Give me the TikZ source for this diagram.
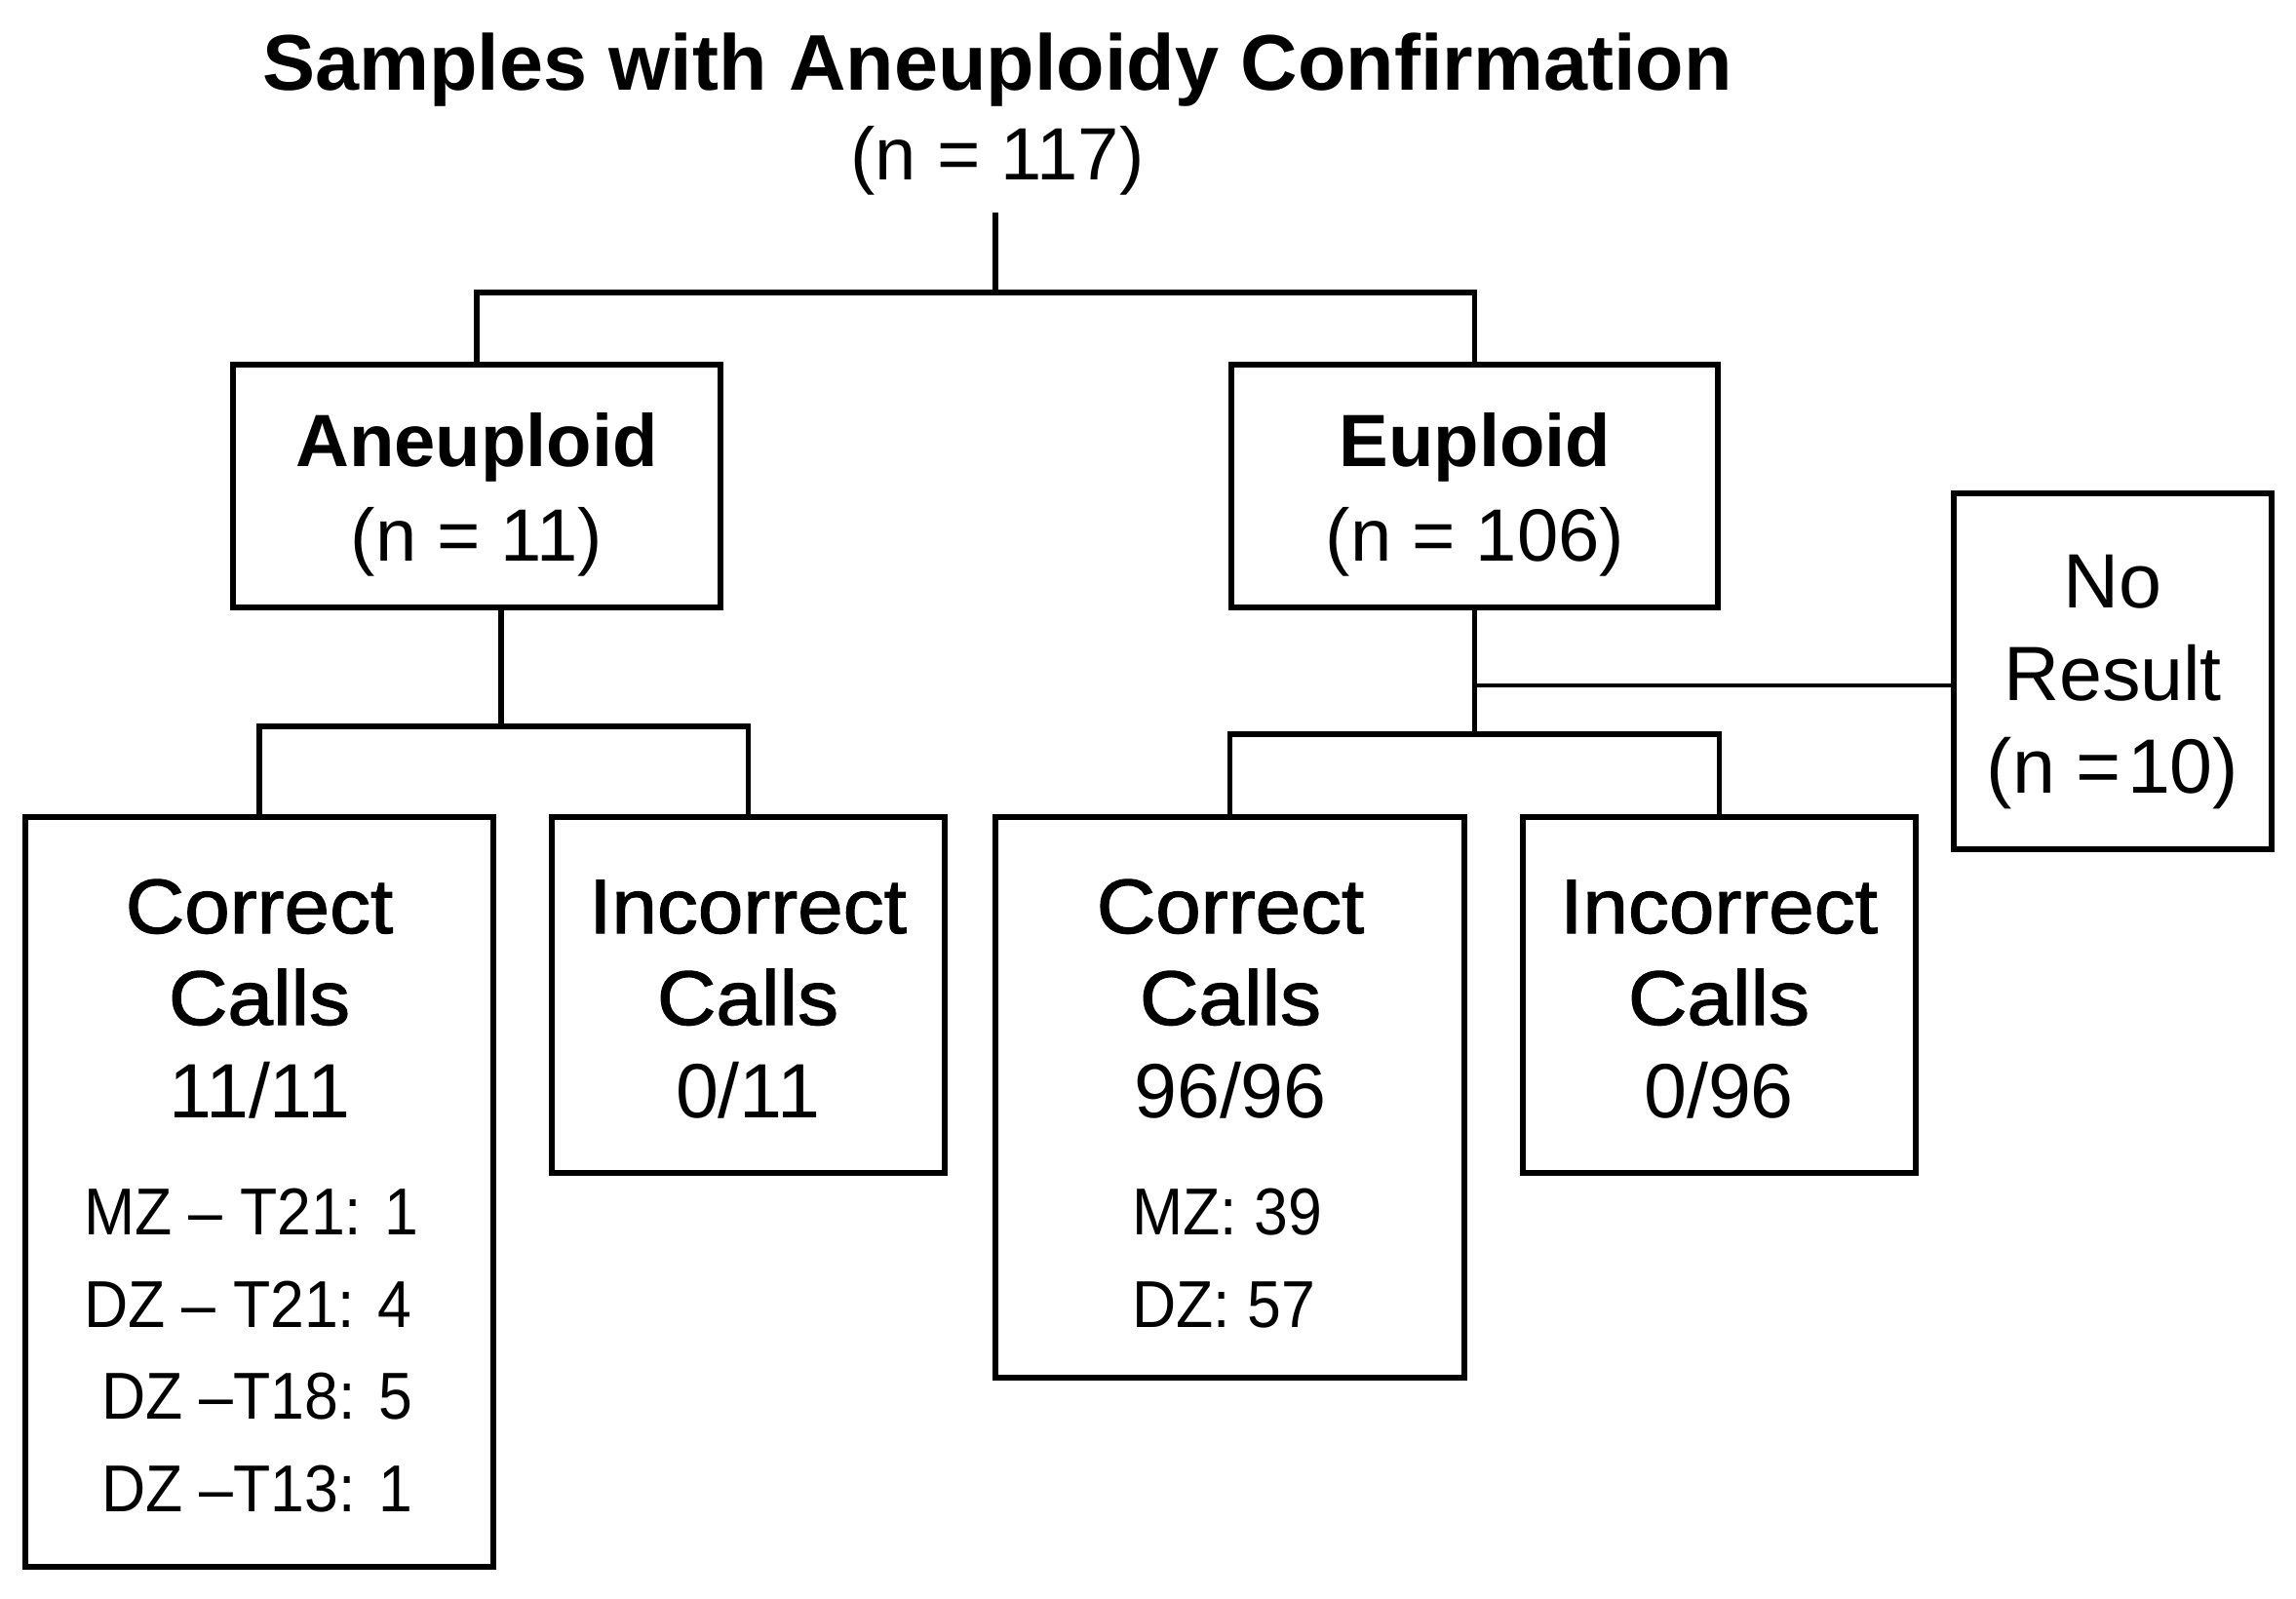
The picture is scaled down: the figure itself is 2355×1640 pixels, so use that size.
\documentclass[tikz,border=0pt]{standalone}
\usepackage{fontspec}
\setmainfont{Liberation Sans}
\newfontfamily\medf[FakeBold=1.5,FakeStretch=1.06]{Liberation Sans}
\newfontfamily\detf[FakeStretch=0.92]{Liberation Sans}
\newcommand\FsTitle{\fontsize{81}{97}\selectfont}
\newcommand\FsHead{\fontsize{76}{92}\selectfont}
\newcommand\FsCall{\fontsize{79}{95}\selectfont}
\newcommand\FsDet{\fontsize{68}{82}\selectfont}
\begin{document}
\begin{tikzpicture}[x=1pt,y=-1pt,
  box/.style={draw, line width=6.5pt, inner sep=0pt},
  conn/.style={line width=5.5pt},
  thinconn/.style={line width=4pt},
  txt/.style={anchor=base, inner sep=0pt}]
\useasboundingbox (0,0) rectangle (2355,1640);
\fill[white] (0,0) rectangle (2355,1640);

% title
\node[txt] (t1) at (1023,93) {\FsTitle\bfseries Samples with Aneuploidy Confirmation};
\node[txt] (t2) at (1023,185) {\FsHead (n = 117)};
\coordinate (top) at (1021,218);

% boxes
\node[box, minimum width=500pt, minimum height=249pt] (an) at (489,498.5) {};
\node[box, minimum width=499pt, minimum height=249pt] (eu) at (1512.5,498.5) {};
\node[box, minimum width=326pt, minimum height=365pt] (nr) at (2167,688.5) {};
\node[box, minimum width=480pt, minimum height=769pt] (cl) at (266,1222.5) {};
\node[box, minimum width=403pt, minimum height=365pt] (il) at (767.5,1020.5) {};
\node[box, minimum width=481pt, minimum height=575pt] (cr) at (1261.5,1125.5) {};
\node[box, minimum width=403pt, minimum height=365pt] (ir) at (1763.5,1020.5) {};

% box texts
\node[txt] (an1) at (489,478) {\FsHead\bfseries Aneuploid};
\node[txt] (an2) at (489,575) {\FsHead (n = 11)};
\node[txt] (eu1) at (1513,478) {\FsHead\bfseries Euploid};
\node[txt] (eu2) at (1513,575) {\FsHead (n = 106)};
\node[txt] (nr1) at (2167,623) {\FsCall No};
\node[txt] (nr2) at (2167,718) {\FsCall Result};
\node[txt] (nr3) at (2167,813) {\FsCall (n =\hspace{6pt}10)};

\node[txt] (cl1) at (266,957) {\FsCall\medf Correct};
\node[txt] (cl2) at (266,1051) {\FsCall\medf Calls};
\node[txt] (cl3) at (266,1146) {\FsCall 11/11};
\node[txt, anchor=base west] (cl4) at (86,1266) {\FsDet\detf MZ – T21: 1};
\node[txt, anchor=base west] (cl5) at (86,1361) {\FsDet\detf DZ – T21: 4};
\node[txt, anchor=base west] (cl6) at (104,1455) {\FsDet\detf DZ –T18: 5};
\node[txt, anchor=base west] (cl7) at (104,1550) {\FsDet\detf DZ –T13: 1};

\node[txt] (il1) at (767,957) {\FsCall\medf Incorrect};
\node[txt] (il2) at (767,1051) {\FsCall\medf Calls};
\node[txt] (il3) at (767,1146) {\FsCall 0/11};

\node[txt] (cr1) at (1262,957) {\FsCall\medf Correct};
\node[txt] (cr2) at (1262,1051) {\FsCall\medf Calls};
\node[txt] (cr3) at (1262,1146) {\FsCall 96/96};
\node[txt, anchor=base west] (cr4) at (1161,1266) {\FsDet\detf MZ: 39};
\node[txt, anchor=base west] (cr5) at (1161,1361) {\FsDet\detf DZ: 57};

\node[txt] (ir1) at (1763,957) {\FsCall\medf Incorrect};
\node[txt] (ir2) at (1763,1051) {\FsCall\medf Calls};
\node[txt] (ir3) at (1763,1146) {\FsCall 0/96};

% connectors
\draw[conn] (top) -- (top |- 0,303);
\draw[conn] (an.north) -- ++(0,-71) -| (eu.north);
\coordinate (anb) at (514,623);
\draw[conn] (anb) -- (anb |- 0,748);
\draw[conn] (cl.north) -- ++(0,-90) -| (il.north);
\draw[conn] (eu.south) -- (eu.south |- 0,756);
\draw[conn] (cr.north) -- ++(0,-82) -| (ir.north);
\coordinate (ej) at (1513,703);
\draw[thinconn] (ej) -- (ej -| nr.west);
\end{tikzpicture}
\end{document}
